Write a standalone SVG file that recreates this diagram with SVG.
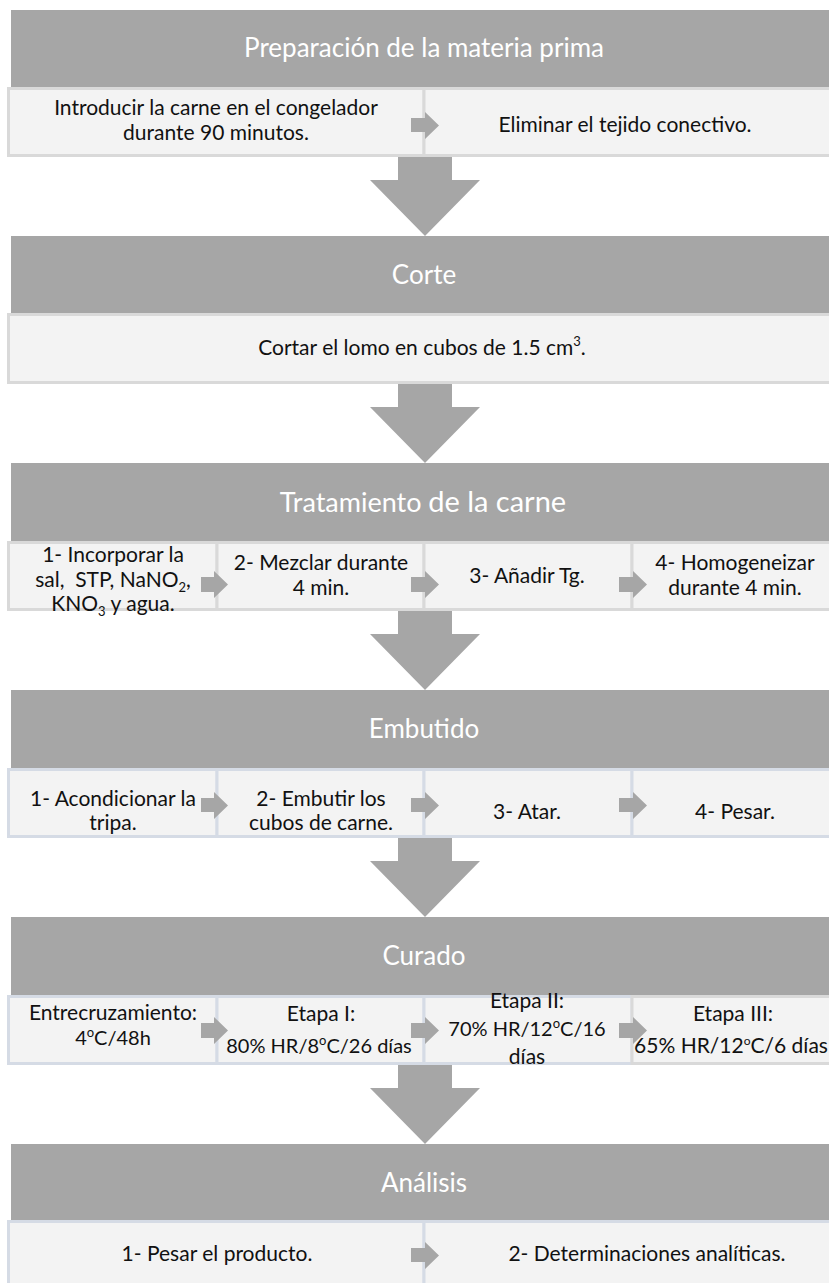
<svg xmlns="http://www.w3.org/2000/svg" width="829" height="1283" viewBox="0 0 829 1283">
<style>
.hdr{fill:#a6a6a6}
.cell{fill:#f3f3f3;stroke:#d9d9d9;stroke-width:3}
.cellb{fill:#f3f3f3;stroke:#d5dbe5;stroke-width:3}
.ht{fill:#ffffff;font-family:Lato,"Open Sans",sans-serif;font-size:26px;text-anchor:middle}
.ct{fill:#111111;font-family:Lato,"Open Sans",sans-serif;font-size:21px;text-anchor:middle}
.cs{font-size:20px}
.arr{fill:#a6a6a6}
</style>
<rect width="829" height="1283" fill="#ffffff"/>

<g id="s1">
  <rect class="hdr" x="11" y="10" width="830" height="77"/>
  <text class="ht" x="424" y="57">Preparación de la materia prima</text>
</g>
<g id="s1-c1">
  <rect class="cell" x="8.5" y="88.5" width="415.5" height="67"/>
  <text class="ct" x="216" y="115">Introducir la carne en el congelador</text>
  <text class="ct" x="216" y="140">durante 90 minutos.</text>
</g>
<g id="s1-c2">
  <rect class="cell" x="424" y="88.5" width="420" height="67"/>
  <text class="ct" x="625" y="132">Eliminar el tejido conectivo.</text>
</g>

<g id="s2">
  <rect class="hdr" x="11" y="236" width="830" height="77"/>
  <text class="ht" x="424" y="284">Corte</text>
</g>
<g id="s2-c1">
  <rect class="cell" x="8.5" y="314.5" width="836" height="68"/>
  <text class="ct" x="422" y="355">Cortar el lomo en cubos de 1.5 cm<tspan font-size="13" dy="-9">3</tspan><tspan dy="9">.</tspan></text>
</g>

<g id="s3">
  <rect class="hdr" x="11" y="463" width="830" height="78"/>
  <text class="ht" x="423" y="512"><tspan font-size="27">Tratamiento</tspan> <tspan font-size="29">de la carne</tspan></text>
</g>
<g id="s3-c1">
  <rect class="cell" x="8.5" y="542.5" width="208.5" height="67"/>
  <text class="ct" x="113" y="562">1- Incorporar la</text>
  <text class="ct" x="113" y="587" style="white-space:pre">sal,  STP, NaNO<tspan font-size="13" dy="5">2</tspan><tspan dy="-5">,</tspan></text>
  <text class="ct" x="113" y="611">KNO<tspan font-size="13" dy="5">3</tspan><tspan dy="-5"> y agua.</tspan></text>
</g>
<g id="s3-c2">
  <rect class="cell" x="217" y="542.5" width="207" height="67"/>
  <text class="ct" x="321" y="570">2- Mezclar durante</text>
  <text class="ct" x="321" y="595">4 min.</text>
</g>
<g id="s3-c3">
  <rect class="cell" x="424" y="542.5" width="208" height="67"/>
  <text class="ct" x="527" y="583">3- Añadir Tg.</text>
</g>
<g id="s3-c4">
  <rect class="cell" x="632" y="542.5" width="212" height="67"/>
  <text class="ct" x="735" y="570">4- Homogeneizar</text>
  <text class="ct" x="735" y="595">durante 4 min.</text>
</g>

<g id="s4">
  <rect class="hdr" x="11" y="690" width="830" height="78"/>
  <text class="ht" x="424" y="738">Embutido</text>
</g>
<g id="s4-c1">
  <rect class="cellb" x="8.5" y="769.5" width="208.5" height="67"/>
  <text class="ct" x="113" y="806">1- Acondicionar la</text>
  <text class="ct" x="113" y="830">tripa.</text>
</g>
<g id="s4-c2">
  <rect class="cellb" x="217" y="769.5" width="207" height="67"/>
  <text class="ct" x="321" y="806">2- Embutir los</text>
  <text class="ct" x="321" y="830">cubos de carne.</text>
</g>
<g id="s4-c3">
  <rect class="cellb" x="424" y="769.5" width="208" height="67"/>
  <text class="ct" x="527" y="819">3- Atar.</text>
</g>
<g id="s4-c4">
  <rect class="cellb" x="632" y="769.5" width="212" height="67"/>
  <text class="ct" x="735" y="819">4- Pesar.</text>
</g>

<g id="s5">
  <rect class="hdr" x="11" y="917" width="830" height="78"/>
  <text class="ht" x="424" y="965">Curado</text>
</g>
<g id="s5-c1">
  <rect class="cellb" x="8.5" y="996.5" width="208.5" height="67"/>
  <text class="ct" x="113" y="1020">Entrecruzamiento:</text>
  <text class="ct cs" x="113" y="1045">4<tspan font-size="13" dy="-8">o</tspan><tspan dy="8">C/48h</tspan></text>
</g>
<g id="s5-c2">
  <rect class="cellb" x="217" y="996.5" width="207" height="67"/>
  <text class="ct" x="321" y="1021">Etapa I:</text>
  <text class="ct cs" x="319" y="1053">80% HR/8<tspan font-size="13" dy="-8">o</tspan><tspan dy="8">C/26 días</tspan></text>
</g>
<g id="s5-c3">
  <rect class="cellb" x="424" y="996.5" width="208" height="67"/>
  <text class="ct" x="527" y="1008">Etapa II:</text>
  <text class="ct cs" x="527" y="1036">70% HR/12<tspan font-size="13" dy="-8">o</tspan><tspan dy="8">C/16</tspan></text>
  <text class="ct" x="527" y="1064">días</text>
</g>
<g id="s5-c4">
  <rect class="cell" x="632" y="996.5" width="212" height="67"/>
  <text class="ct" x="733" y="1021">Etapa III:</text>
  <text class="ct" x="731" y="1053" font-size="19">65% HR/12<tspan font-size="12" dy="-8">o</tspan><tspan dy="8">C/6 días</tspan></text>
</g>

<g id="s6">
  <rect class="hdr" x="11" y="1144" width="830" height="76"/>
  <text class="ht" x="424" y="1192">Análisis</text>
</g>
<g id="s6-c1">
  <rect class="cellb" x="8.5" y="1221.5" width="415.5" height="70"/>
  <text class="ct" x="217" y="1261">1- Pesar el producto.</text>
</g>
<g id="s6-c2">
  <rect class="cellb" x="424" y="1221.5" width="420" height="70"/>
  <text class="ct" x="647" y="1261">2- Determinaciones analíticas.</text>
</g>

<g id="connectors">
  <path class="arr" d="M398 157H452V180H480L425 236L370 180H398Z"/>
  <path class="arr" d="M398 384H452V407H480L425 463L370 407H398Z"/>
  <path class="arr" d="M398 611H452V634H480L425 690L370 634H398Z"/>
  <path class="arr" d="M398 838H452V861H480L425 917L370 861H398Z"/>
  <path class="arr" d="M398 1065H452V1088H480L425 1144L370 1088H398Z"/>

  <path class="arr" d="M411 118H425V112L439 125.5L425 139V132H411Z"/>

  <path class="arr" d="M201 577H214V571L228 584.5L214 598V592H201Z"/>
  <path class="arr" d="M411 577H425V571L439 584.5L425 598V592H411Z"/>
  <path class="arr" d="M619 577H633V571L647 584.5L633 598V592H619Z"/>

  <path class="arr" d="M201 798H214V792L228 805.5L214 819V812H201Z"/>
  <path class="arr" d="M411 798H425V792L439 805.5L425 819V812H411Z"/>
  <path class="arr" d="M619 798H633V792L647 805.5L633 819V812H619Z"/>

  <path class="arr" d="M201 1023H214V1017L228 1030.5L214 1044V1038H201Z"/>
  <path class="arr" d="M411 1023H425V1017L439 1030.5L425 1044V1038H411Z"/>
  <path class="arr" d="M619 1023H633V1017L647 1030.5L633 1044V1038H619Z"/>

  <path class="arr" d="M411 1248H425V1242L439 1255.5L425 1269V1262H411Z"/>
</g>
</svg>
